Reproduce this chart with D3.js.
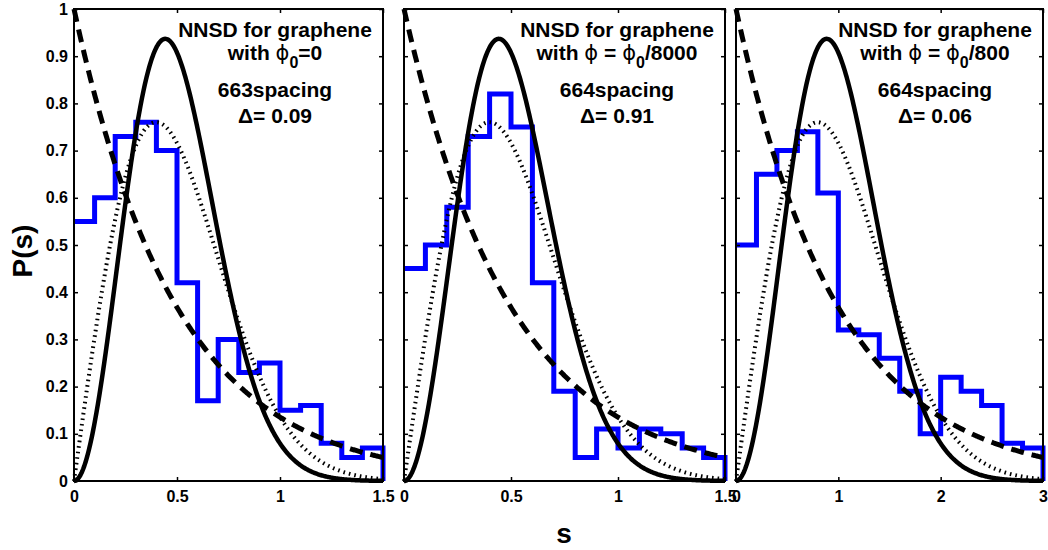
<!DOCTYPE html>
<html lang="en">
<head>
    <meta charset="UTF-8">
    <title>NNSD for graphene</title>
    <script src="https://d3js.org/d3.v7.min.js"></script>
    <style>
        body {
            margin: 0;
            background: #fff;
        }
        svg {
            display: block;
            font-family: "Liberation Sans", Arial, sans-serif;
            font-weight: bold;
        }
        .tick text {
            font-size: 16px;
            font-weight: bold;
            fill: #000;
        }
        .tick line {
            stroke: #000;
            stroke-width: 1.5px;
        }
        .note {
            font-size: 21px;
            text-anchor: middle;
        }
        .phi {
            font-family: "DejaVu Sans", sans-serif;
            font-weight: normal;
        }
    </style>
</head>
<body>
    <div id="chart"></div>

    <script>
        // histogram heights, one value per bin
        const hist1 = [0.55, 0.60, 0.73, 0.76, 0.70, 0.42, 0.17, 0.30, 0.23, 0.25, 0.15, 0.16, 0.08, 0.05, 0.07];
        const hist2 = [0.45, 0.50, 0.58, 0.73, 0.82, 0.75, 0.42, 0.19, 0.05, 0.11, 0.07, 0.11, 0.10, 0.07, 0.05];
        const hist3 = [0.50, 0.65, 0.70, 0.74, 0.61, 0.32, 0.31, 0.26, 0.19, 0.10, 0.22, 0.19, 0.16, 0.08, 0.07];
        const binWidths = [0.1, 0.1, 0.2];
        const xMax = [1.5, 1.5, 3];
        // panels 1 and 2 plot the reference curves against s/2
        const sScale = [2, 2, 1];

        const xTicks = [[0, 0.5, 1, 1.5], [0, 0.5, 1, 1.5], [0, 1, 2, 3]];
        const xTickLabels = [["0", "0.5", "1", "1.5"], ["0", "0.5", "1", "1.5"], ["0", "1", "2", "3"]];
        const yTicks = [0, 0.1, 0.2, 0.3, 0.4, 0.5, 0.6, 0.7, 0.8, 0.9, 1];
        const yTickLabels = ["0", "0.1", "0.2", "0.3", "0.4", "0.5", "0.6", "0.7", "0.8", "0.9", "1"];

        const spacings = ["663spacing", "664spacing", "664spacing"];
        const deltas = ["\u0394= 0.09", "\u0394= 0.91", "\u0394= 0.06"];
        // pieces of the second line: text, phi, text, phi, subscript, rest
        const fluxTexts = [
            ["with ", "", "", "\u03d5", "0", "=0"],
            ["with ", "\u03d5", " = ", "\u03d5", "0", "/8000"],
            ["with ", "\u03d5", " = ", "\u03d5", "0", "/800"]
        ];

        // reference distributions
        const poisson = s => Math.exp(-s);
        const goe = s => Math.PI / 2 * s * Math.exp(-Math.PI * s * s / 4);
        const gue = s => 32 / (Math.PI * Math.PI) * s * s * Math.exp(-4 * s * s / Math.PI);

        const width = 1048, height = 550;
        const yTop = 9, yBottom = 481;
        const panels = [
            { left: 74, right: 383 },
            { left: 404, right: 725 },
            { left: 736, right: 1043 }
        ];
        const hists = [hist1, hist2, hist3];

        const svg = d3.select("#chart").append("svg")
            .attr("width", width)
            .attr("height", height);

        svg.append("rect").attr("width", width).attr("height", height).attr("fill", "#fff");

        const y = d3.scaleLinear().domain([0, 1]).range([yBottom, yTop]);

        panels.forEach((p, i) => {
            const x = d3.scaleLinear().domain([0, xMax[i]]).range([p.left, p.right]);
            const g = svg.append("g");

            // blue histogram
            const vals = hists[i];
            const pts = vals.map((v, k) => [k * binWidths[i], v]);
            pts.push([vals.length * binWidths[i], vals[vals.length - 1]]);
            pts.push([vals.length * binWidths[i], 0]);
            const step = d3.line()
                .x(d => x(d[0]))
                .y(d => y(d[1]))
                .curve(d3.curveStepAfter);
            g.append("path")
                .attr("d", step(pts))
                .attr("fill", "none")
                .attr("stroke", "#0000ff")
                .attr("stroke-width", 5)
                .attr("stroke-linejoin", "miter");

            // theory curves
            const grid = d3.range(0, xMax[i] + 1e-9, xMax[i] / 400);
            const line = d3.line().x(d => x(d[0])).y(d => y(d[1]));
            const curve = f => grid.map(s => [s, f(s * sScale[i])]);

            g.append("path")
                .attr("d", line(curve(gue)))
                .attr("fill", "none")
                .attr("stroke", "#000")
                .attr("stroke-width", 4.5);

            g.append("path")
                .attr("d", line(curve(goe)))
                .attr("fill", "none")
                .attr("stroke", "#000")
                .attr("stroke-width", 4)
                .attr("stroke-dasharray", "1.6,4");

            g.append("path")
                .attr("d", line(curve(poisson)))
                .attr("fill", "none")
                .attr("stroke", "#000")
                .attr("stroke-width", 5)
                .attr("stroke-dasharray", "13,8");

            // axes, ticks pointing inward
            const bottomAxis = d3.axisBottom(x)
                .tickValues(xTicks[i])
                .tickFormat((d, k) => xTickLabels[i][k])
                .tickSizeInner(-4).tickSizeOuter(0).tickPadding(10);
            g.append("g").attr("transform", `translate(0,${yBottom})`).call(bottomAxis)
                .call(a => a.select(".domain").remove());

            g.append("g").attr("transform", `translate(0,${yTop})`)
                .call(d3.axisTop(x).tickValues(xTicks[i]).tickFormat("").tickSizeInner(-4).tickSizeOuter(0))
                .call(a => a.select(".domain").remove());

            const leftAxis = d3.axisLeft(y)
                .tickValues(yTicks)
                .tickFormat((d, k) => i === 0 ? yTickLabels[k] : "")
                .tickSizeInner(-4).tickSizeOuter(0).tickPadding(6);
            g.append("g").attr("transform", `translate(${p.left},0)`).call(leftAxis)
                .call(a => a.select(".domain").remove());

            g.append("g").attr("transform", `translate(${p.right},0)`)
                .call(d3.axisRight(y).tickValues(yTicks).tickFormat("").tickSizeInner(-4).tickSizeOuter(0))
                .call(a => a.select(".domain").remove());

            g.append("rect")
                .attr("x", p.left).attr("y", yTop)
                .attr("width", p.right - p.left).attr("height", yBottom - yTop)
                .attr("fill", "none")
                .attr("stroke", "#000")
                .attr("stroke-width", 2);

            // annotation
            const cx = p.right - 108;
            const f = fluxTexts[i];
            g.append("text").attr("class", "note").attr("x", cx).attr("y", 37).text("NNSD for graphene");
            const t2 = g.append("text").attr("class", "note").attr("x", cx).attr("y", 60);
            t2.append("tspan").text(f[0]);
            if (f[1]) t2.append("tspan").attr("class", "phi").text(f[1]);
            if (f[2]) t2.append("tspan").text(f[2]);
            t2.append("tspan").attr("class", "phi").text(f[3]);
            t2.append("tspan").attr("dy", 8).style("font-size", "16px").text(f[4]);
            t2.append("tspan").attr("dy", -8).text(f[5]);
            g.append("text").attr("class", "note").attr("x", cx).attr("y", 97).text(spacings[i]);
            g.append("text").attr("class", "note").attr("x", cx).attr("y", 123).text(deltas[i]);
        });

        // axis titles
        svg.append("text")
            .attr("transform", "translate(32,251) rotate(-90)")
            .attr("text-anchor", "middle")
            .style("font-size", "28px")
            .text("P(s)");

        svg.append("text")
            .attr("x", 564).attr("y", 543)
            .attr("text-anchor", "middle")
            .style("font-size", "28px")
            .text("s");
    </script>
</body>
</html>
